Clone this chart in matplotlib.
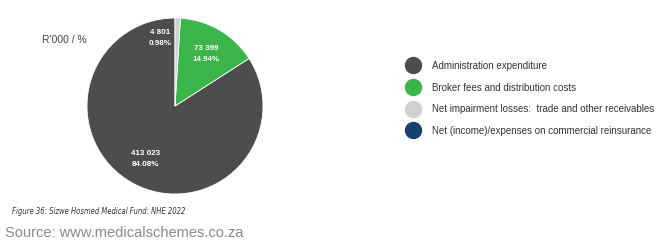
import numpy as np
import matplotlib
matplotlib.use("Agg")
import matplotlib.pyplot as plt
from matplotlib.lines import Line2D

plt.rcParams['font.family'] = ['Liberation Sans', 'DejaVu Sans']

categories = ["Administration expenditure",
              "Broker fees and distribution costs",
              "Net impairment losses:  trade and other receivables",
              "Net (income)/expenses on commercial reinsurance"]
values = [413023, 73399, 4801, 0]
value_labels = ["413 023", "73 399", "4 801", ""]
pct_labels = ["84.08%", "14.94%", "0.98%", ""]
colors = ["#4d4d4f", "#3bb54a", "#cfd0d2", "#17406d"]

W, H = 660, 247
fig = plt.figure(figsize=(W / 100, H / 100), dpi=100)
fig.patch.set_facecolor("white")

cx, cy, r = 175, 106, 88
ax = fig.add_axes([(cx - r) / W, (H - cy - r) / H, 2 * r / W, 2 * r / H])
pie_vals = [v for v in values if v > 0]
pie_cols = [c for v, c in zip(values, colors) if v > 0]
wedges, _ = ax.pie(pie_vals, colors=pie_cols, startangle=90, counterclock=True,
                   wedgeprops=dict(edgecolor="white", linewidth=0.6))
ax.set_xlim(-1, 1)
ax.set_ylim(-1, 1)
ax.set_aspect("equal")
ax.axis("off")

for i, w in enumerate(wedges):
    mid = np.deg2rad((w.theta1 + w.theta2) / 2)
    d = 0.69
    if values[i] / sum(values) < 0.05:
        mid += np.deg2rad(14)
        d = 0.79
    x, y = d * np.cos(mid), d * np.sin(mid)
    ax.text(x, y, value_labels[i] + "\n" + pct_labels[i], ha="center", va="center",
            color="white", fontsize=5.8, fontweight="bold", linespacing=1.75)

fig.text(42 / W, 1 - 40 / H, "R'000 / %", fontsize=7.5, color="#444444",
         ha="left", va="center")

handles = [Line2D([0], [0], marker="o", linestyle="none", markersize=11.5,
                  markerfacecolor=c, markeredgecolor=c) for c in colors]
fig.legend(handles, categories, loc="upper left",
           bbox_to_anchor=(401 / W, 1 - 57 / H), frameon=False,
           fontsize=7, labelspacing=1.2, handletextpad=1.15,
           handlelength=1.6, borderaxespad=0, labelcolor="#333333")

fig.text(12 / W, 1 - 211 / H, "Figure 36: Sizwe Hosmed Medical Fund: NHE 2022",
         fontsize=5.5, style="italic", color="#333333", ha="left", va="center",
         fontstretch="condensed", family="DejaVu Sans")
fig.text(5 / W, 1 - 233 / H, "Source: www.medicalschemes.co.za",
         fontsize=10.5, color="#8a8a8a", ha="left", va="center")

fig.savefig("out.png", dpi=100)
